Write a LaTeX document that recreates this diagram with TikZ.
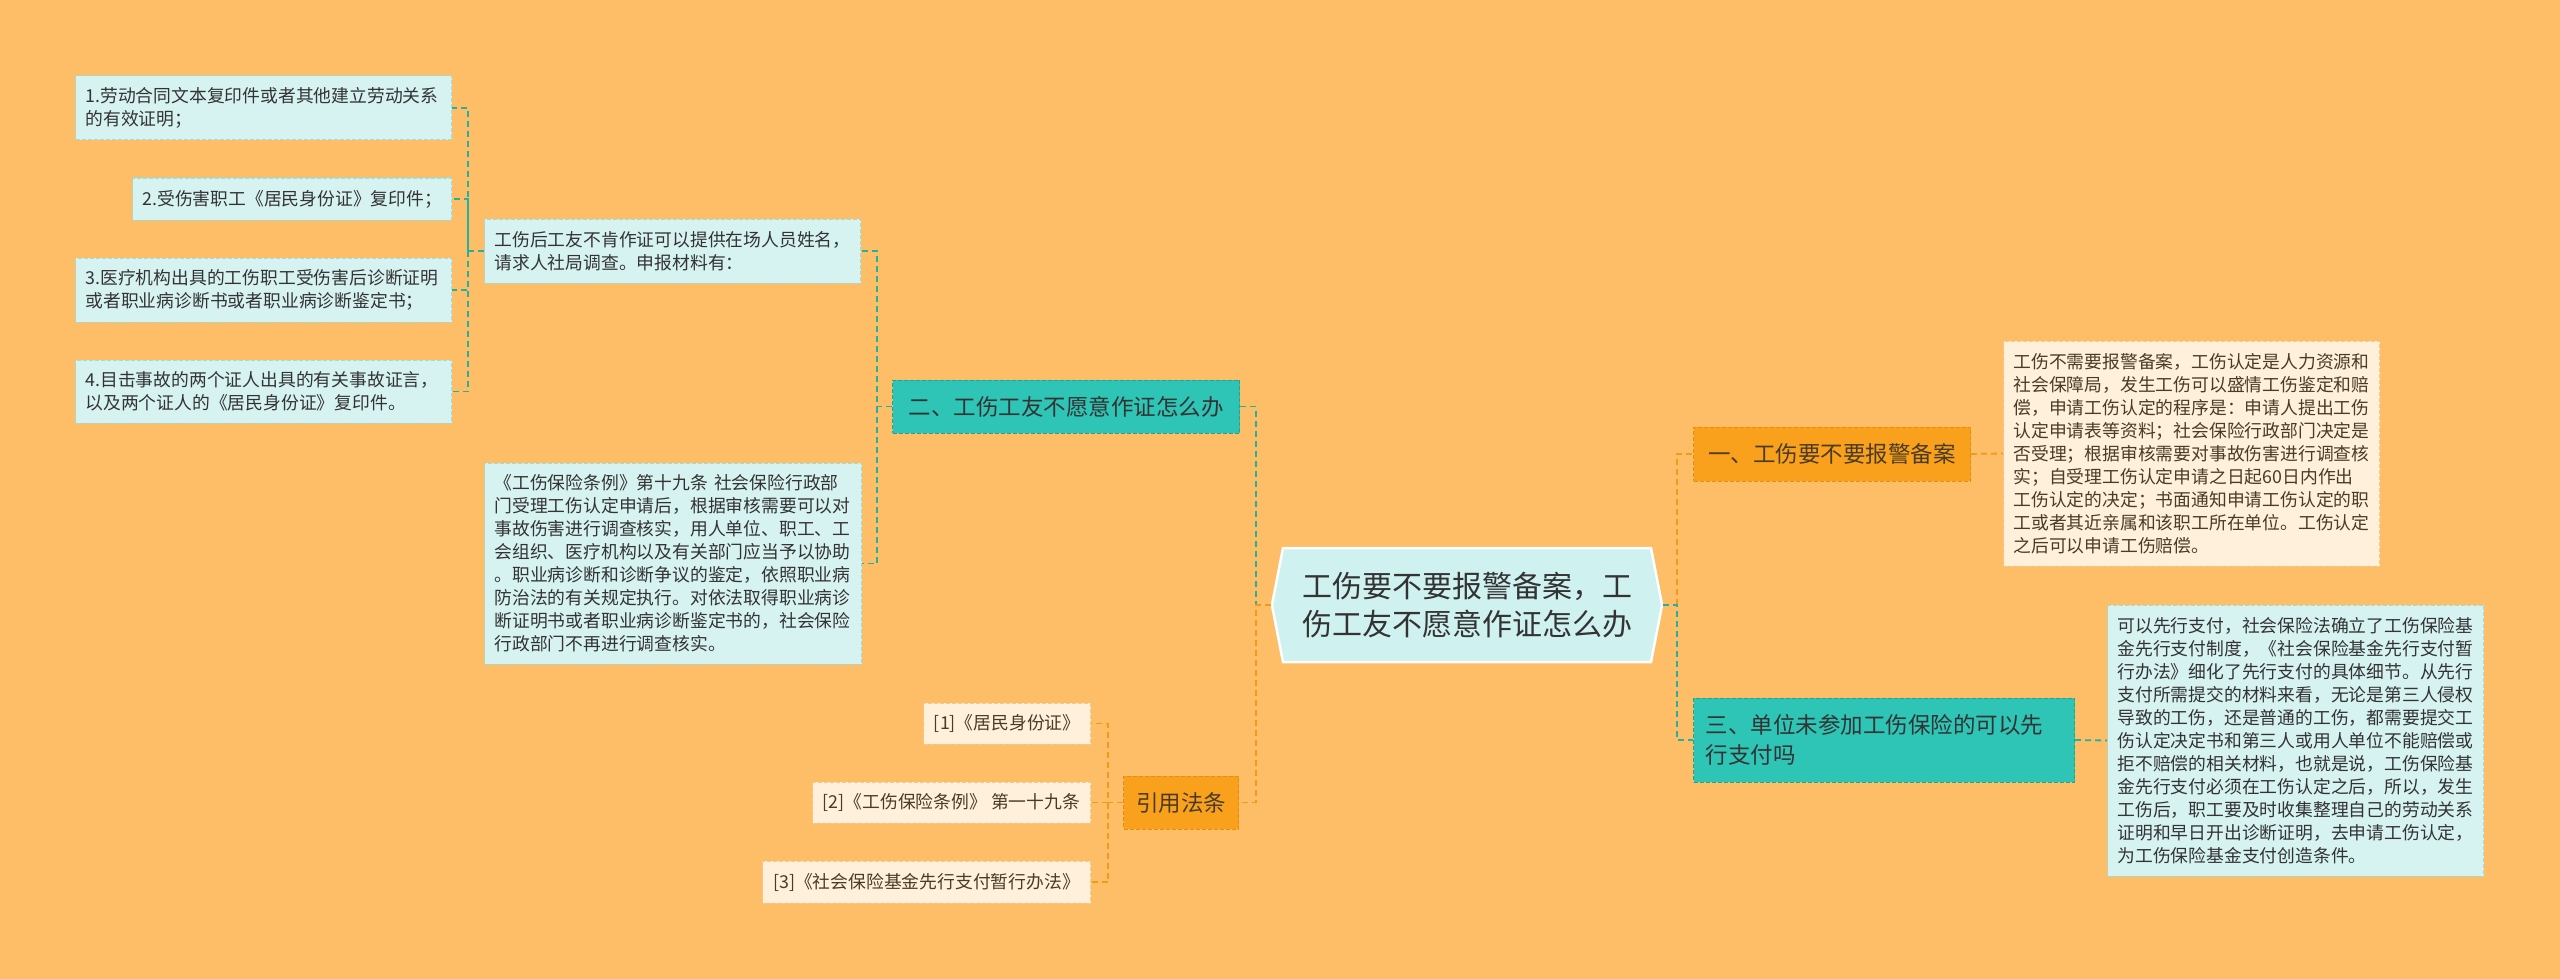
\documentclass[tikz,border=0pt]{standalone}
\usepackage{fontspec}
\setmainfont{Noto Sans CJK SC}
\usetikzlibrary{shapes.symbols}
\definecolor{bgorange}{HTML}{FEBD67}
\definecolor{rootfill}{HTML}{CFF2F0}
\definecolor{tealfill}{HTML}{2EC4B6}
\definecolor{tealedge}{HTML}{1FA596}
\definecolor{tealline}{HTML}{26B09F}
\definecolor{orangefill}{HTML}{F9A11C}
\definecolor{orangeedge}{HTML}{E58E14}
\definecolor{orangeline}{HTML}{F39A1C}
\definecolor{cyanleaf}{HTML}{D6F3F1}
\definecolor{cyanedge}{HTML}{9FDCD5}
\definecolor{creamleaf}{HTML}{FEF0DB}
\definecolor{creamedge}{HTML}{F3C98C}
\definecolor{darktext}{HTML}{333333}
\definecolor{browntext}{HTML}{4A3B25}
\begin{document}
\begin{tikzpicture}[x=1pt,y=-1pt,
    leaf/.style={draw=cyanedge,fill=cyanleaf,dash pattern=on 4pt off 2pt,line width=1pt,text=darktext,
      font=\fontsize{17.8}{23}\selectfont,align=left,inner xsep=10pt,inner ysep=0pt},
    creamleaf/.style={leaf,draw=creamedge,fill=creamleaf,text=browntext},
    tealtopic/.style={draw=tealedge,fill=tealfill,dash pattern=on 4pt off 2pt,line width=1pt,text=darktext,
      font=\fontsize{22.5}{30}\selectfont,align=left,inner xsep=12pt,inner ysep=0pt},
    orangetopic/.style={tealtopic,draw=orangeedge,fill=orangefill,text=browntext},
    tealwire/.style={draw=tealline,line width=1.8pt,dash pattern=on 6pt off 4pt},
    orangewire/.style={draw=orangeline,line width=1.8pt,dash pattern=on 6pt off 4pt}]
        % background and page size
        \fill[bgorange] (0,0) rectangle (2560,979);
        \useasboundingbox (0,0) rectangle (2560,979);

        % central topic
        \node[shape=signal,signal to=west and east,signal pointer angle=158,draw=white,line width=2.5pt,
          fill=rootfill,text=darktext,font=\fontsize{30}{38}\selectfont,align=left,text width=330pt,
          inner xsep=19pt,inner ysep=0pt,minimum height=114pt] (root) at (1467,605)
          {工伤要不要报警备案，工\\伤工友不愿意作证怎么办};

        % right branches
        \node[orangetopic,anchor=west,minimum width=277pt,minimum height=54pt] (yi) at (1693,454)
          {一、工伤要不要报警备案};
        \node[tealtopic,anchor=west,text width=357pt,minimum height=84pt] (san) at (1693,740)
          {三、单位未参加工伤保险的可以先\\行支付吗};
        \node[creamleaf,anchor=west,text width=356pt,minimum height=225pt] (yitext) at (2003,453.5)
          {工伤不需要报警备案，工伤认定是人力资源和\\社会保障局，发生工伤可以盛情工伤鉴定和赔\\偿，申请工伤认定的程序是：申请人提出工伤\\认定申请表等资料；社会保险行政部门决定是\\否受理；根据审核需要对事故伤害进行调查核\\实；自受理工伤认定申请之日起60日内作出\\工伤认定的决定；书面通知申请工伤认定的职\\工或者其近亲属和该职工所在单位。工伤认定\\之后可以申请工伤赔偿。};
        \node[leaf,anchor=west,text width=356pt,minimum height=271pt] (santext) at (2107,740.5)
          {可以先行支付，社会保险法确立了工伤保险基\\金先行支付制度，《社会保险基金先行支付暂\\行办法》细化了先行支付的具体细节。从先行\\支付所需提交的材料来看，无论是第三人侵权\\导致的工伤，还是普通的工伤，都需要提交工\\伤认定决定书和第三人或用人单位不能赔偿或\\拒不赔偿的相关材料，也就是说，工伤保险基\\金先行支付必须在工伤认定之后，所以，发生\\工伤后，职工要及时收集整理自己的劳动关系\\证明和早日开出诊断证明，去申请工伤认定，\\为工伤保险基金支付创造条件。};

        % left branches
        \node[tealtopic,anchor=east,minimum width=347pt,minimum height=53pt] (er) at (1240,406.5)
          {二、工伤工友不愿意作证怎么办};
        \node[orangetopic,anchor=east,minimum width=115pt,minimum height=53pt] (cite) at (1239,802.5)
          {引用法条};
        \node[leaf,anchor=east,text width=356pt,minimum height=64pt] (ertext) at (861,251)
          {工伤后工友不肯作证可以提供在场人员姓名，\\请求人社局调查。申报材料有：};
        \node[leaf,anchor=east,text width=357pt,minimum height=201pt] (rule) at (862,563.5)
          {《工伤保险条例》第十九条 社会保险行政部\\门受理工伤认定申请后，根据审核需要可以对\\事故伤害进行调查核实，用人单位、职工、工\\会组织、医疗机构以及有关部门应当予以协助\\。职业病诊断和诊断争议的鉴定，依照职业病\\防治法的有关规定执行。对依法取得职业病诊\\断证明书或者职业病诊断鉴定书的，社会保险\\行政部门不再进行调查核实。};

        % materials list
        \node[leaf,anchor=east,text width=356pt,minimum height=64pt] (doc1) at (452,108)
          {1.劳动合同文本复印件或者其他建立劳动关系\\的有效证明；};
        \node[leaf,anchor=east,text width=299pt,minimum height=42pt] (doc2) at (452,199)
          {2.受伤害职工《居民身份证》复印件；};
        \node[leaf,anchor=east,text width=356pt,minimum height=64pt] (doc3) at (452,290)
          {3.医疗机构出具的工伤职工受伤害后诊断证明\\或者职业病诊断书或者职业病诊断鉴定书；};
        \node[leaf,anchor=east,text width=356pt,minimum height=63pt] (doc4) at (452,391.5)
          {4.目击事故的两个证人出具的有关事故证言，\\以及两个证人的《居民身份证》复印件。};

        % cited laws
        \node[creamleaf,anchor=east,minimum width=166pt,minimum height=41pt] (law1) at (1091,723.5)
          {[1]《居民身份证》};
        \node[creamleaf,anchor=east,minimum width=278pt,minimum height=41pt] (law2) at (1091,802.5)
          {[2]《工伤保险条例》 第一十九条};
        \node[creamleaf,anchor=east,minimum width=328pt,minimum height=42pt] (law3) at (1091,882)
          {[3]《社会保险基金先行支付暂行办法》};

        % junctions
        \coordinate (cl) at (1256,605);
        \coordinate (cr) at (1677,605);
        \coordinate (ej) at (877,406.5);
        \coordinate (lj) at (468,251);
        \coordinate (cj) at (1108,802.5);

        % connectors from the centre
        \draw[tealwire] (er.east) -| (cl);
        \draw[orangewire] (root.west) -- (cl) |- (cite.east);
        \draw[orangewire] (cr) |- (yi.west);
        \draw[tealwire] (root.east) -- (cr) |- (san.west);
        \draw[orangewire] (yi.east) -- (yitext.west);
        \draw[tealwire] (san.east) -- (santext.west);

        % connectors on the left
        \draw[tealwire] (er.west) -- (ej) |- (ertext.east);
        \draw[tealwire] (ej) |- (rule.east);
        \draw[tealwire] (ertext.west) -- (lj) |- (doc1.east);
        \draw[tealwire] (lj) |- (doc2.east);
        \draw[tealwire] (lj) |- (doc3.east);
        \draw[tealwire] (lj) |- (doc4.east);
        \draw[orangewire] (cite.west) -- (cj) |- (law1.east);
        \draw[orangewire] (cj) |- (law2.east);
        \draw[orangewire] (cj) |- (law3.east);
    \end{tikzpicture}
\end{document}
